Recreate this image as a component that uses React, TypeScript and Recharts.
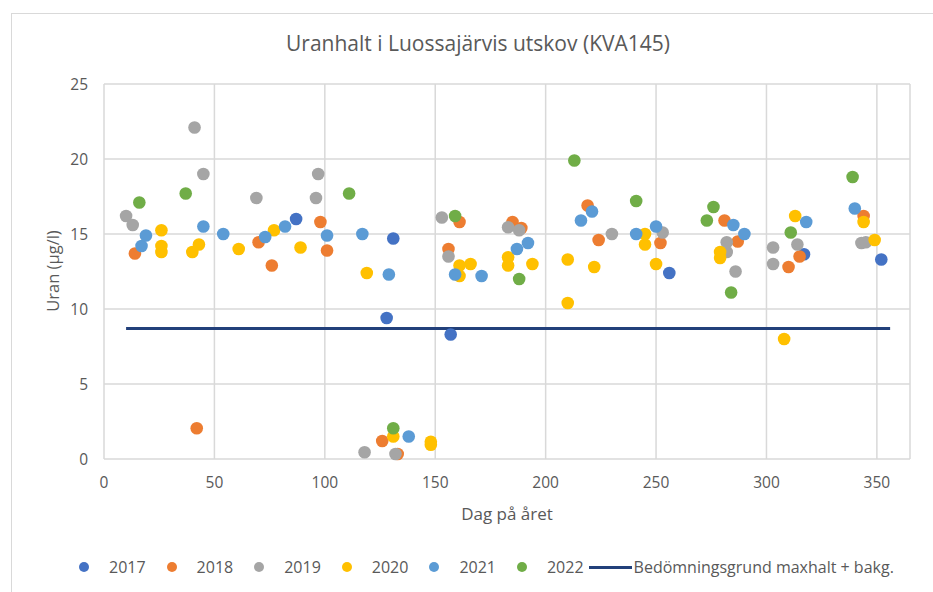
import React from "react";
import {
  ScatterChart,
  Scatter,
  XAxis,
  YAxis,
  CartesianGrid,
  ReferenceLine,
} from "recharts";

// dag på året, uranhalt (µg/l) per år
const y2017 = [
  { x: 87, y: 16.0 }, { x: 128, y: 9.4 }, { x: 131, y: 14.7 }, { x: 157, y: 8.3 },
  { x: 256, y: 12.4 }, { x: 317, y: 13.65 }, { x: 352, y: 13.3 },
];
const y2018 = [
  { x: 14, y: 13.7 }, { x: 42, y: 2.05 }, { x: 70, y: 14.45 }, { x: 76, y: 12.9 },
  { x: 98, y: 15.8 }, { x: 101, y: 13.9 }, { x: 126, y: 1.2 }, { x: 133, y: 0.33 },
  { x: 156, y: 14.0 }, { x: 161, y: 15.8 }, { x: 185, y: 15.8 }, { x: 189, y: 15.4 },
  { x: 219, y: 16.9 }, { x: 224, y: 14.6 }, { x: 252, y: 14.4 }, { x: 281, y: 15.9 },
  { x: 287, y: 14.5 }, { x: 310, y: 12.8 }, { x: 315, y: 13.5 }, { x: 344, y: 16.2 },
];
const y2019 = [
  { x: 10, y: 16.2 }, { x: 13, y: 15.6 }, { x: 41, y: 22.1 }, { x: 45, y: 19.0 },
  { x: 69, y: 17.4 }, { x: 96, y: 17.4 }, { x: 97, y: 19.0 }, { x: 118, y: 0.45 },
  { x: 132, y: 0.33 }, { x: 153, y: 16.1 }, { x: 156, y: 13.5 }, { x: 183, y: 15.45 },
  { x: 188, y: 15.25 }, { x: 230, y: 15.0 }, { x: 253, y: 15.1 }, { x: 282, y: 14.45 },
  { x: 282, y: 13.8 }, { x: 286, y: 12.5 }, { x: 303, y: 14.1 }, { x: 303, y: 13.0 },
  { x: 314, y: 14.3 }, { x: 343, y: 14.4 }, { x: 345, y: 14.45 },
];
const y2020 = [
  { x: 26, y: 15.25 }, { x: 26, y: 14.2 }, { x: 26, y: 13.8 }, { x: 40, y: 13.8 },
  { x: 43, y: 14.3 }, { x: 61, y: 14.0 }, { x: 77, y: 15.25 }, { x: 89, y: 14.1 },
  { x: 119, y: 12.4 }, { x: 131, y: 1.5 }, { x: 148, y: 1.15 }, { x: 148, y: 0.95 },
  { x: 161, y: 12.9 }, { x: 166, y: 13.0 }, { x: 161, y: 12.2 }, { x: 183, y: 13.45 },
  { x: 183, y: 12.9 }, { x: 194, y: 13.0 }, { x: 210, y: 13.3 }, { x: 210, y: 10.4 },
  { x: 222, y: 12.8 }, { x: 245, y: 15.0 }, { x: 245, y: 14.3 }, { x: 250, y: 13.0 },
  { x: 279, y: 13.8 }, { x: 279, y: 13.4 }, { x: 308, y: 8.0 }, { x: 313, y: 16.2 },
  { x: 344, y: 15.8 }, { x: 349, y: 14.6 },
];
const y2021 = [
  { x: 17, y: 14.2 }, { x: 19, y: 14.9 }, { x: 45, y: 15.5 }, { x: 54, y: 15.0 },
  { x: 73, y: 14.8 }, { x: 82, y: 15.5 }, { x: 101, y: 14.9 }, { x: 117, y: 15.0 },
  { x: 129, y: 12.3 }, { x: 138, y: 1.5 }, { x: 159, y: 12.3 }, { x: 171, y: 12.2 },
  { x: 187, y: 14.0 }, { x: 192, y: 14.4 }, { x: 216, y: 15.9 }, { x: 221, y: 16.5 },
  { x: 241, y: 15.0 }, { x: 250, y: 15.5 }, { x: 285, y: 15.6 }, { x: 290, y: 15.0 },
  { x: 318, y: 15.8 }, { x: 340, y: 16.7 },
];
const y2022 = [
  { x: 16, y: 17.1 }, { x: 37, y: 17.7 }, { x: 111, y: 17.7 }, { x: 131, y: 2.05 },
  { x: 159, y: 16.2 }, { x: 188, y: 12.0 }, { x: 213, y: 19.9 }, { x: 241, y: 17.2 },
  { x: 273, y: 15.9 }, { x: 276, y: 16.8 }, { x: 284, y: 11.1 }, { x: 311, y: 15.1 },
  { x: 339, y: 18.8 },
];

const years = ["2017", "2018", "2019", "2020", "2021", "2022"];
const yearData = [y2017, y2018, y2019, y2020, y2021, y2022];
const colors = ["#4472C4", "#ED7D31", "#A5A5A5", "#FFC000", "#5B9BD5", "#70AD47"];

const limitName = "Bedömningsgrund maxhalt + bakg.";
const limitValue = 8.7;
const limitFrom = 10;
const limitTo = 356;

const xTicks = [0, 50, 100, 150, 200, 250, 300, 350];
const yTicks = [0, 5, 10, 15, 20, 25];

const font = "'Open Sans', sans-serif";
const textColor = "#595959";
const limitColor = "#22407A";

const dot = (color: string) => (props: any) =>
  <circle cx={props.cx} cy={props.cy} r={6.3} fill={color} />;

const App = () => {
  return (
    <div
      style={{
        position: "fixed",
        left: 0,
        top: 0,
        width: 933,
        height: 592,
        overflow: "hidden",
        background: "#fff",
        fontFamily: font,
      }}
    >
      {/* chart frame */}
      <div
        style={{
          position: "absolute",
          left: 11,
          top: 13,
          width: 960,
          height: 620,
          border: "1.5px solid #D9D9D9",
        }}
      />
      <div
        style={{
          position: "absolute",
          left: 0,
          width: 956,
          top: 29,
          textAlign: "center",
          fontSize: 21,
          color: textColor,
        }}
      >
        Uranhalt i Luossajärvis utskov (KVA145)
      </div>
      <div
        style={{
          position: "absolute",
          left: 52,
          top: 271,
          transform: "translate(-50%, -50%) rotate(-90deg)",
          whiteSpace: "nowrap",
          fontSize: 16.5,
          color: textColor,
        }}
      >
        Uran (µg/l)
      </div>
      <div
        style={{
          position: "absolute",
          left: 507,
          top: 513,
          transform: "translate(-50%, -50%)",
          whiteSpace: "nowrap",
          fontSize: 17,
          color: textColor,
        }}
      >
        Dag på året
      </div>

      <div style={{ position: "absolute", left: 0, top: 0 }}>
        <ScatterChart
          width={933}
          height={592}
          margin={{ top: 84, right: 23, left: 44, bottom: 103 }}
        >
          <CartesianGrid stroke="#D9D9D9" strokeWidth={1.5} />
          <XAxis
            type="number"
            dataKey="x"
            domain={[0, 365]}
            ticks={xTicks}
            allowDataOverflow
            axisLine={false}
            tickLine={false}
            tickMargin={12}
            height={30}
            tick={{ fill: textColor, fontSize: 15.5, fontFamily: font }}
          />
          <YAxis
            type="number"
            dataKey="y"
            domain={[0, 25]}
            ticks={yTicks}
            axisLine={false}
            tickLine={false}
            tickMargin={10}
            width={60}
            tick={{ fill: textColor, fontSize: 15.5, fontFamily: font }}
          />
          <ReferenceLine
            segment={[
              { x: limitFrom, y: limitValue },
              { x: limitTo, y: limitValue },
            ]}
            stroke={limitColor}
            strokeWidth={3}
          />
          {years.map((yr, i) => (
            <Scatter
              key={yr}
              name={yr}
              data={yearData[i]}
              fill={colors[i]}
              shape={dot(colors[i])}
              isAnimationActive={false}
            />
          ))}
        </ScatterChart>
      </div>

      {/* legend */}
      <div
        style={{
          position: "absolute",
          left: 79,
          top: 556,
          display: "flex",
          alignItems: "center",
          fontSize: 16,
          color: textColor,
          whiteSpace: "nowrap",
        }}
      >
        {years.map((yr, i) => (
          <div key={yr} style={{ display: "flex", alignItems: "center", marginRight: 21 }}>
            <span
              style={{
                display: "inline-block",
                width: 10,
                height: 10,
                borderRadius: 5,
                background: colors[i],
                marginRight: 20,
              }}
            />
            <span>{yr}</span>
          </div>
        ))}
        <div style={{ display: "flex", alignItems: "center", marginLeft: -16 }}>
          <span
            style={{
              display: "inline-block",
              width: 43,
              height: 3,
              background: limitColor,
              marginRight: 2,
            }}
          />
          <span>{limitName}</span>
        </div>
      </div>
    </div>
  );
};

export default App;
